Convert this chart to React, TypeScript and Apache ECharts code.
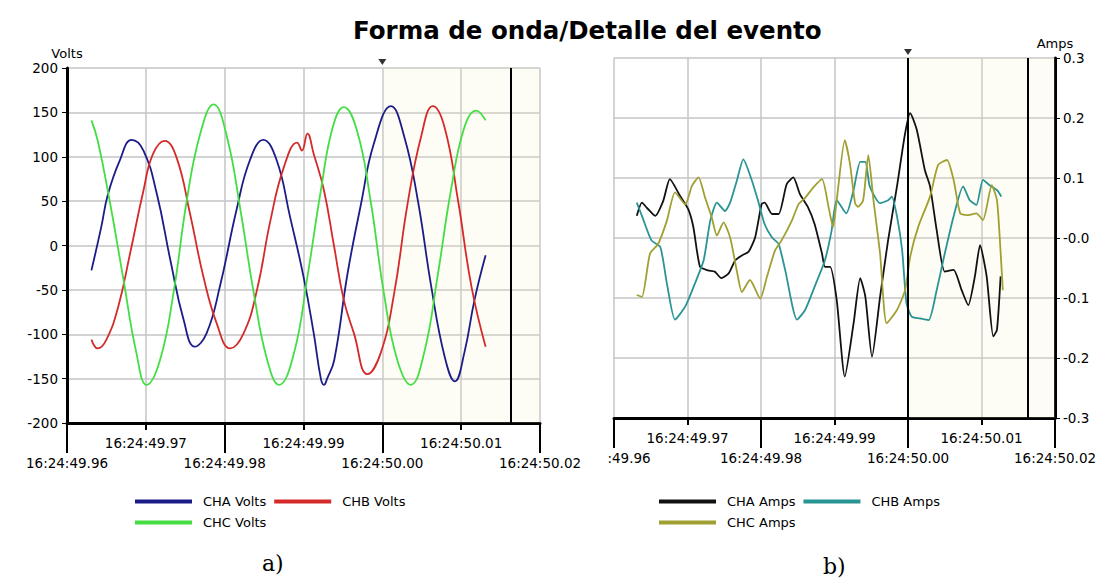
import React, { useEffect, useRef } from "react";
import * as echarts from "echarts";

// time axis: milliseconds after 16:24:49.96
const xTickLabels = [
  "16:24:49.96", "16:24:49.97", "16:24:49.98", "16:24:49.99",
  "16:24:50.00", "16:24:50.01", "16:24:50.02",
];
const voltTicks = [-200, -150, -100, -50, 0, 50, 100, 150, 200];
const ampTicks = [-0.3, -0.2, -0.1, 0, 0.1, 0.2, 0.3];

const chaVolts = [[3.1,-28],[4.35,21],[5.2,58],[6.7,96],[8.2,119],[9.7,107],[11.4,58],[13.1,-16],[14.8,-84],[16.2,-114],[17.7,-99],[19.4,-46],[21.5,40],[23.2,96],[24.9,119],[26.6,96],[28.3,32],[30.0,-35],[31.3,-99],[32.2,-150],[32.6,-157],[33.0,-150],[33.9,-129],[35.6,-31],[37.3,47],[38.9,114],[41.1,157],[42.8,122],[44.5,51],[46.2,-46],[47.9,-125],[49.2,-153],[50.4,-121],[51.7,-61],[53.1,-11]];
const chbVolts = [[3.1,-106],[3.9,-116],[5.0,-106],[6.5,-69],[8.0,-9],[9.7,62],[10.9,103],[12.4,118],[13.9,99],[15.6,36],[17.3,-35],[19.0,-88],[20.7,-116],[22.4,-99],[24.1,-50],[25.8,28],[27.5,88],[29.2,116],[29.8,107],[30.5,126],[31.3,103],[32.6,62],[33.9,-2],[35.1,-61],[36.4,-99],[38.1,-145],[39.8,-121],[41.5,-54],[43.2,47],[44.9,122],[46.4,157],[47.9,133],[49.6,51],[51.3,-46],[53.1,-114]];
const chcVolts = [[3.1,141],[3.9,118],[5.4,51],[7.1,-35],[8.8,-121],[10.1,-157],[11.8,-129],[13.5,-54],[15.2,51],[16.9,126],[18.6,159],[20.3,122],[22.0,40],[23.7,-54],[25.4,-129],[26.9,-157],[28.8,-121],[30.5,-35],[32.2,62],[33.7,133],[35.1,156],[36.8,129],[38.5,51],[40.2,-54],[41.9,-129],[43.6,-157],[45.3,-121],[47.0,-35],[48.7,62],[50.4,133],[51.9,152],[53.1,141]];

const chaAmps = [[3.1,0.037],[3.8,0.059],[4.5,0.05],[5.6,0.037],[6.7,0.062],[7.6,0.098],[9.0,0.070],[10.1,0.048],[10.8,0.018],[11.7,-0.048],[12.8,-0.054],[13.7,-0.056],[14.6,-0.067],[15.6,-0.059],[16.5,-0.037],[17.4,-0.029],[18.3,-0.023],[19.2,0.001],[20.1,0.057],[20.5,0.059],[21.5,0.040],[22.4,0.040],[23.5,0.090],[24.4,0.101],[25.3,0.073],[26.4,0.051],[27.3,0.023],[28.3,-0.026],[28.7,-0.048],[29.4,-0.048],[30.3,-0.103],[31.4,-0.231],[32.6,-0.142],[33.5,-0.067],[34.2,-0.098],[35.1,-0.198],[36.2,-0.098],[37.3,-0.003],[38.5,0.086],[39.6,0.174],[40.3,0.208],[41.2,0.180],[42.3,0.113],[43.0,0.086],[43.9,0.013],[45.0,-0.056],[46.2,-0.053],[47.3,-0.087],[48.2,-0.112],[49.1,-0.064],[49.8,-0.012],[50.7,-0.064],[51.6,-0.164],[52.1,-0.153],[52.6,-0.064]];
const chbAmps = [[3.1,0.059],[3.8,0.037],[5.1,-0.004],[6.3,-0.015],[7.2,-0.076],[8.3,-0.136],[9.7,-0.114],[11.0,-0.076],[12.2,-0.037],[13.1,0.029],[14.0,0.059],[15.1,0.045],[15.8,0.059],[16.7,0.095],[17.6,0.131],[18.7,0.098],[19.6,0.062],[20.5,0.023],[21.5,0.001],[22.4,-0.010],[23.3,-0.054],[24.9,-0.136],[26.0,-0.120],[27.3,-0.081],[28.7,-0.037],[29.6,0.012],[30.3,0.063],[31.6,0.041],[32.6,0.08],[33.5,0.127],[34.2,0.127],[34.8,0.086],[36.2,0.058],[37.3,0.063],[37.8,0.069],[38.5,0.036],[39.2,-0.02],[39.8,-0.109],[40.5,-0.131],[41.6,-0.134],[42.8,-0.137],[43.9,-0.087],[45.0,-0.026],[46.2,0.036],[47.5,0.086],[48.4,0.063],[49.3,0.055],[50.2,0.097],[51.1,0.088],[52.1,0.080],[52.7,0.069]];
const chcAmps = [[3.1,-0.095],[3.8,-0.098],[4.9,-0.026],[6.0,-0.010],[7.2,0.029],[8.3,0.076],[9.7,0.056],[10.6,0.087],[11.5,0.101],[12.4,0.067],[13.3,0.034],[14.0,0.004],[14.9,0.026],[15.8,0.001],[16.7,-0.054],[17.4,-0.090],[18.5,-0.070],[19.9,-0.101],[20.8,-0.065],[21.9,-0.021],[22.8,-0.004],[24.2,0.029],[25.1,0.056],[26.0,0.067],[27.1,0.084],[28.3,0.098],[29.2,0.051],[29.8,0.018],[30.3,0.063],[31.4,0.163],[32.1,0.124],[32.8,0.058],[33.2,0.052],[33.9,0.063],[34.6,0.138],[35.3,0.063],[36.2,-0.026],[37.1,-0.142],[38.5,-0.12],[39.6,-0.087],[40.3,-0.031],[41.4,0.019],[43.0,0.069],[44.1,0.122],[45.3,0.13],[46.2,0.097],[47.1,0.041],[48.0,0.038],[49.3,0.041],[50.2,0.030],[51.4,0.088],[52.1,0.063],[52.5,-0.003],[52.9,-0.087]];

const voltNames = ["CHA Volts", "CHB Volts", "CHC Volts"];
const ampNames = ["CHA Amps", "CHB Amps", "CHC Amps"];
const voltColors = ["#1c1c88", "#d42a2a", "#44de44"];
const ampColors = ["#111111", "#2a9494", "#a0a032"];

const triggerMs = 40;
const eventEndMs = 56.3;

const FONT = "DejaVu Sans";
const TICK_FS = 13.5;

export default function App() {
  const ref = useRef<HTMLDivElement>(null);
  useEffect(() => {
    if (!ref.current) return;
    const chart = echarts.init(ref.current, null, { renderer: "svg" });

    // upper row: odd ticks (short), lower row: even ticks (long)
    const oddFmt = (v: number) => {
      const i = Math.round(v / 10);
      return i % 2 === 1 ? xTickLabels[i] : "";
    };
    const evenFmt = (first?: string) => (v: number) => {
      const i = Math.round(v / 10);
      if (i === 0 && first) return "{f|" + first + "}";
      return xTickLabels[i] ?? "";
    };

    const baseX = (gridIndex: number) => ({
      type: "value",
      gridIndex,
      position: "bottom",
      min: 0,
      max: 60,
      interval: 10,
      axisLine: { show: true, onZero: false, lineStyle: { color: "#000", width: 3 } },
      axisTick: { show: true, length: 7, lineStyle: { color: "#000", width: 2 } },
      splitLine: { show: true, lineStyle: { color: "#c4c4c4", width: 1.5 } },
      axisLabel: {
        show: true,
        margin: 13,
        showMinLabel: true,
        showMaxLabel: true,
        color: "#000",
        fontFamily: FONT,
        fontSize: TICK_FS,
        formatter: oddFmt,
      },
    });
    const longTickX = (gridIndex: number, first?: string) => ({
      type: "value",
      gridIndex,
      position: "bottom",
      min: 0,
      max: 60,
      interval: 20,
      axisLine: { show: false, onZero: false },
      axisTick: { show: true, length: 30, lineStyle: { color: "#000", width: 2 } },
      splitLine: { show: false },
      axisLabel: {
        show: true,
        margin: 33,
        showMinLabel: true,
        showMaxLabel: true,
        color: "#000",
        fontFamily: FONT,
        fontSize: TICK_FS,
        formatter: evenFmt(first),
        rich: { f: { fontFamily: FONT, fontSize: TICK_FS, color: "#000", padding: [0, 0, 0, 30] } },
      },
    });

    const lineSeries = (name: string, data: number[][], color: string, xi: number, yi: number, smooth: number) => ({
      name,
      type: "line",
      data,
      xAxisIndex: xi,
      yAxisIndex: yi,
      showSymbol: false,
      symbol: "none",
      smooth,
      clip: false,
      lineStyle: { color, width: 1.8 },
      itemStyle: { color },
      z: 3,
    });

    const volts = [chaVolts, chbVolts, chcVolts];
    const amps = [chaAmps, chbAmps, chcAmps];

    const series: any[] = [];
    volts.forEach((d, i) => series.push(lineSeries(voltNames[i], d, voltColors[i], 0, 0, 0.45)));
    amps.forEach((d, i) => series.push(lineSeries(ampNames[i], d, ampColors[i], 2, 1, 0.2)));

    const shade = {
      silent: true,
      itemStyle: { color: "rgba(240,240,190,0.16)" },
      data: [[{ xAxis: triggerMs }, { xAxis: 60 }]],
    };
    const tri = (y: number) => ({
      silent: true,
      symbol: "triangle",
      symbolRotate: 180,
      symbolSize: [8, 6],
      symbolOffset: [0, -6],
      itemStyle: { color: "#333" },
      label: { show: false },
      data: [{ coord: [triggerMs, y] }],
    });
    series[0].markArea = shade;
    series[0].markLine = {
      silent: true,
      symbol: "none",
      label: { show: false },
      lineStyle: { color: "#000", width: 2, type: "solid" },
      data: [{ xAxis: eventEndMs }],
    };
    series[0].markPoint = tri(voltTicks[voltTicks.length - 1]);
    series[3].markArea = shade;
    series[3].markLine = {
      silent: true,
      symbol: "none",
      label: { show: false },
      lineStyle: { color: "#000", width: 2, type: "solid" },
      data: [{ xAxis: triggerMs }, { xAxis: eventEndMs }],
    };
    series[3].markPoint = tri(ampTicks[ampTicks.length - 1]);

    const legendBase = {
      orient: "horizontal",
      width: 290,
      itemWidth: 57,
      itemHeight: 4,
      itemGap: 8,
      icon: "rect",
      textStyle: { fontFamily: FONT, fontSize: 13, color: "#000", padding: [0, 0, 0, 6] },
    };

    chart.setOption({
      animation: false,
      backgroundColor: "#ffffff",
      title: {
        text: "Forma de onda/Detalle del evento",
        left: 348,
        top: 13,
        textStyle: { fontFamily: FONT, fontWeight: "bold", fontSize: 24.5, color: "#000" },
      },
      grid: [
        { left: 67, top: 68, width: 473, height: 355 },
        { left: 614, top: 58, width: 441, height: 360 },
      ],
      xAxis: [baseX(0), longTickX(0), baseX(1), longTickX(1, ":49.96")],
      yAxis: [
        {
          type: "value",
          gridIndex: 0,
          position: "left",
          min: voltTicks[0],
          max: voltTicks[voltTicks.length - 1],
          interval: 50,
          name: "Volts",
          nameGap: 8,
          nameTextStyle: { fontFamily: FONT, fontSize: 13, color: "#000" },
          axisLine: { show: true, onZero: false, lineStyle: { color: "#000", width: 3 } },
          axisTick: { show: true, length: 5, lineStyle: { color: "#000", width: 1 } },
          splitLine: { show: true, lineStyle: { color: "#c4c4c4", width: 1.5 } },
          axisLabel: { margin: 9, color: "#000", fontFamily: FONT, fontSize: TICK_FS },
        },
        {
          type: "value",
          gridIndex: 1,
          position: "right",
          min: ampTicks[0],
          max: ampTicks[ampTicks.length - 1],
          interval: 0.1,
          name: "Amps",
          nameGap: 8,
          nameTextStyle: { fontFamily: FONT, fontSize: 13, color: "#000" },
          axisLine: { show: true, onZero: false, lineStyle: { color: "#000", width: 3 } },
          axisTick: { show: true, length: 5, lineStyle: { color: "#000", width: 1 } },
          splitLine: { show: true, lineStyle: { color: "#c4c4c4", width: 1.5 } },
          axisLabel: {
            margin: 8,
            color: "#000",
            fontFamily: FONT,
            fontSize: TICK_FS,
            formatter: (v: number) => (Math.abs(v) < 1e-9 ? "-0.0" : v.toFixed(1)),
          },
        },
      ],
      legend: [
        { ...legendBase, left: 130, top: 490, data: voltNames },
        { ...legendBase, left: 654, top: 490, data: ampNames },
      ],
      graphic: [
        { type: "text", left: 262, top: 552, style: { text: "a)", font: '22px "DejaVu Serif", serif', fill: "#000" } },
        { type: "text", left: 823, top: 555, style: { text: "b)", font: '22px "DejaVu Serif", serif', fill: "#000" } },
      ],
      series,
    });

    return () => chart.dispose();
  }, []);

  return (
    <div
      ref={ref}
      style={{ position: "absolute", left: 0, top: 0, width: 1119, height: 586, background: "#fff" }}
    />
  );
}
